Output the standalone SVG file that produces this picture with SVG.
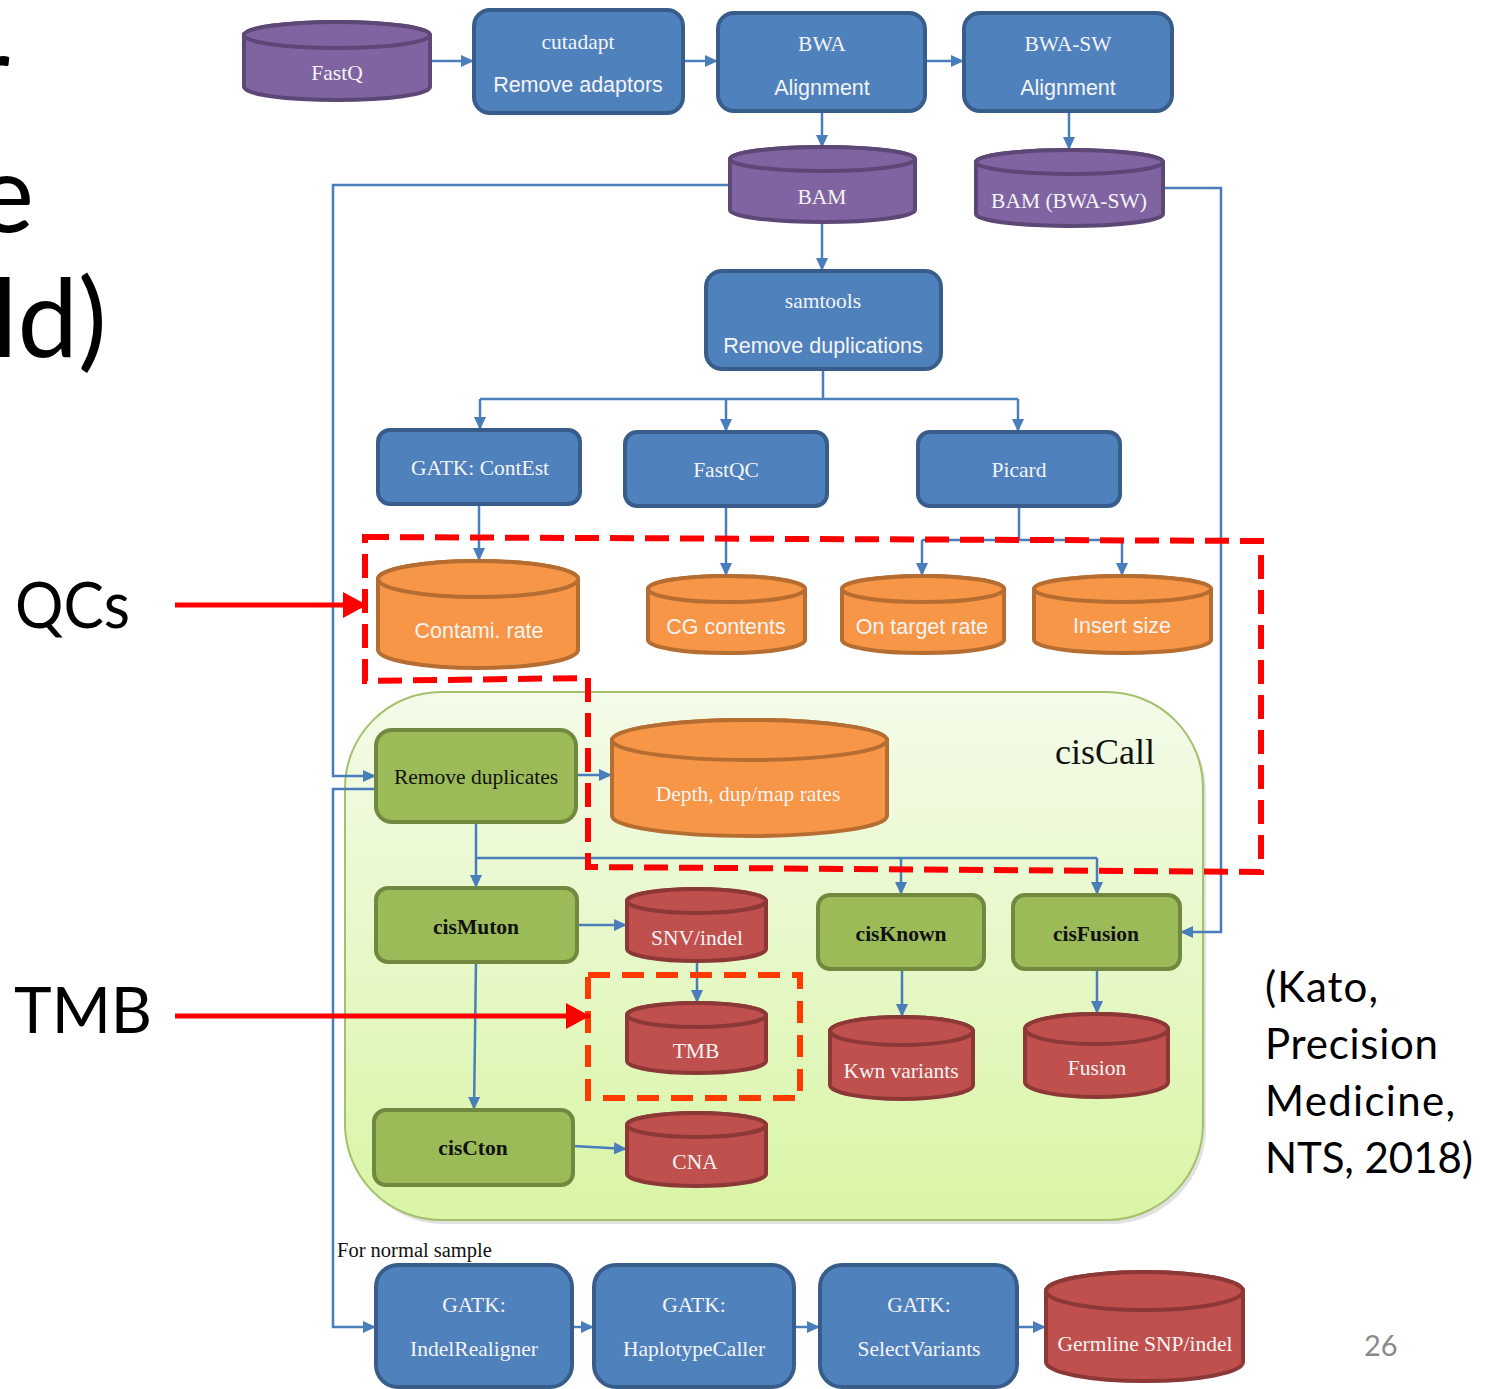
<svg xmlns="http://www.w3.org/2000/svg" width="1492" height="1389" viewBox="0 0 1492 1389">
  <defs>
    <linearGradient id="cisFill" x1="0" y1="0" x2="0" y2="1">
      <stop offset="0" stop-color="#f4fbe9"/>
      <stop offset="1" stop-color="#d9f5a6"/>
    </linearGradient>
    <marker id="arr" markerUnits="userSpaceOnUse" markerWidth="14" markerHeight="14" refX="13" refY="7" orient="auto">
      <path d="M0,1 L13,7 L0,13 Z" fill="#4a7ebb"/>
    </marker>
    <marker id="redArr" markerUnits="userSpaceOnUse" markerWidth="26" markerHeight="28" refX="24" refY="14" orient="auto">
      <path d="M0,1 L24,14 L0,27 Z" fill="#ff0000"/>
    </marker>
  </defs>
  <style>
    .box { fill: #4f81bd; stroke: #385d8a; stroke-width: 4; }
    .gbox { fill: #9bbb59; stroke: #71893f; stroke-width: 4; }
    .cyl-p { fill: #8064a2; stroke: #5c4776; stroke-width: 4; }
    .cyl-o { fill: #f79646; stroke: #b66d31; stroke-width: 4; }
    .cyl-r { fill: #c0504d; stroke: #8c3836; stroke-width: 4; }
    .serif { font-family: "Liberation Serif", "Times New Roman", serif; }
    .sans { font-family: "Liberation Sans", Arial, sans-serif; }
    .slide { font-family: Lato, "Open Sans", sans-serif; fill: #000; }
    .w { fill: #f4f4f4; text-anchor: middle; font-size: 21.5px; }
    .k { fill: #111; text-anchor: middle; font-size: 21.5px; }
    .b { font-weight: bold; }
    .conn path { fill: none; stroke: #4a7ebb; stroke-width: 2.5; }
    .conn .a { marker-end: url(#arr); }
    .qc { fill: none; stroke: #ff0000; stroke-width: 6; stroke-dasharray: 24 11; }
    .tmbbox { fill: none; stroke: #ff3a00; stroke-width: 6; stroke-dasharray: 22 12; }
    .red { stroke: #ff0000; stroke-width: 5; fill: none; marker-end: url(#redArr); }
  </style>

  <rect width="1492" height="1389" fill="#ffffff"/>

  <!-- slide title fragments at the left edge -->
  <text class="slide" x="10" y="112" font-size="108" text-anchor="end">r</text>
  <text class="slide" x="34" y="232" font-size="108" text-anchor="end">e</text>
  <text class="slide" x="-8" y="357" font-size="108">ld)</text>

  <!-- cisCall container -->
  <g id="cisCall">
    <rect x="348" y="696" width="858" height="528" rx="96" fill="#bdbdbd" opacity="0.45"/>
    <rect x="345" y="692" width="858" height="528" rx="96" fill="url(#cisFill)" stroke="#a3c06c" stroke-width="2"/>
    <text class="serif" x="1105" y="764" font-size="36" text-anchor="middle" fill="#111">cisCall</text>
  </g>

  <!-- connectors -->
  <g id="connectors" class="conn">
    <path class="a" d="M430,61 H474"/>
    <path class="a" d="M683,61 H718"/>
    <path class="a" d="M925,61 H964"/>
    <path class="a" d="M822,111 V148"/>
    <path class="a" d="M1069,111 V150"/>
    <path class="a" d="M822,222 V271"/>
    <path class="a" d="M730,185 H333 V776 H376"/>
    <path class="a" d="M1163,188 H1221 V932 H1180"/>
    <path d="M823,369 V399 M480,399 H1018"/>
    <path class="a" d="M480,399 V430"/>
    <path class="a" d="M726,399 V432"/>
    <path class="a" d="M1018,399 V432"/>
    <path class="a" d="M479,504 V561"/>
    <path class="a" d="M726,506 V576"/>
    <path d="M1019,506 V540 M922,540 H1122"/>
    <path class="a" d="M922,540 V576"/>
    <path class="a" d="M1122,540 V576"/>
    <path class="a" d="M576,775 H612"/>
    <path class="a" d="M476,822 V888"/>
    <path d="M476,858 H1097"/>
    <path class="a" d="M901,858 V895"/>
    <path class="a" d="M1097,858 V895"/>
    <path class="a" d="M577,925 H627"/>
    <path class="a" d="M697,961 V1003"/>
    <path class="a" d="M476,962 L474,1110"/>
    <path class="a" d="M573,1146 L627,1149"/>
    <path class="a" d="M902,969 V1017"/>
    <path class="a" d="M1097,969 V1014"/>
    <path class="a" d="M376,789 H333 V1327 H376"/>
    <path class="a" d="M572,1327 H594"/>
    <path class="a" d="M794,1327 H820"/>
    <path class="a" d="M1017,1327 H1046"/>
  </g>

  <!-- top row -->
  <g id="fastq">
    <path class="cyl-p" d="M244,35 V87 A93,13 0 0 0 430,87 V35 A93,13 0 0 0 244,35 Z"/>
    <ellipse class="cyl-p" cx="337" cy="35" rx="93" ry="13"/>
    <text class="serif w" x="337" y="80" font-size="20">FastQ</text>
  </g>
  <g id="cutadapt">
    <rect class="box" x="474" y="10" width="209" height="103" rx="16"/>
    <text class="serif w" x="578" y="49">cutadapt</text>
    <text class="sans w" x="578" y="92" font-size="21">Remove adaptors</text>
  </g>
  <g id="bwa">
    <rect class="box" x="718" y="13" width="207" height="98" rx="16"/>
    <text class="serif w" x="822" y="51">BWA</text>
    <text class="sans w" x="822" y="95">Alignment</text>
  </g>
  <g id="bwasw">
    <rect class="box" x="964" y="13" width="208" height="98" rx="16"/>
    <text class="serif w" x="1068" y="51">BWA-SW</text>
    <text class="sans w" x="1068" y="95">Alignment</text>
  </g>
  <g id="bam">
    <path class="cyl-p" d="M730,159 V210 A92.5,12 0 0 0 915,210 V159 A92.5,12 0 0 0 730,159 Z"/>
    <ellipse class="cyl-p" cx="822.5" cy="159" rx="92.5" ry="12"/>
    <text class="serif w" x="822" y="204" font-size="21">BAM</text>
  </g>
  <g id="bam-bwasw">
    <path class="cyl-p" d="M976,162 V214 A93.5,12 0 0 0 1163,214 V162 A93.5,12 0 0 0 976,162 Z"/>
    <ellipse class="cyl-p" cx="1069.5" cy="162" rx="93.5" ry="12"/>
    <text class="serif w" x="1069" y="208" font-size="20.5">BAM (BWA-SW)</text>
  </g>

  <g id="samtools">
    <rect class="box" x="706" y="271" width="235" height="98" rx="16"/>
    <text class="serif w" x="823" y="308" font-size="20.5">samtools</text>
    <text class="sans w" x="823" y="353">Remove duplications</text>
  </g>

  <!-- QC tools -->
  <g id="contest">
    <rect class="box" x="378" y="430" width="202" height="74" rx="12"/>
    <text class="serif w" x="480" y="475">GATK: ContEst</text>
  </g>
  <g id="fastqc">
    <rect class="box" x="625" y="432" width="202" height="74" rx="12"/>
    <text class="serif w" x="726" y="477">FastQC</text>
  </g>
  <g id="picard">
    <rect class="box" x="918" y="432" width="202" height="74" rx="12"/>
    <text class="serif w" x="1019" y="477">Picard</text>
  </g>

  <!-- QC outputs -->
  <g id="contami">
    <path class="cyl-o" d="M378,579 V650 A100,18 0 0 0 578,650 V579 A100,18 0 0 0 378,579 Z"/>
    <ellipse class="cyl-o" cx="478" cy="579" rx="100" ry="18"/>
    <text class="sans w" x="479" y="638">Contami. rate</text>
  </g>
  <g id="cg">
    <path class="cyl-o" d="M648,589 V640 A78.5,13 0 0 0 805,640 V589 A78.5,13 0 0 0 648,589 Z"/>
    <ellipse class="cyl-o" cx="726.5" cy="589" rx="78.5" ry="13"/>
    <text class="sans w" x="726" y="634">CG contents</text>
  </g>
  <g id="ontarget">
    <path class="cyl-o" d="M842,589 V640 A81,13 0 0 0 1004,640 V589 A81,13 0 0 0 842,589 Z"/>
    <ellipse class="cyl-o" cx="923" cy="589" rx="81" ry="13"/>
    <text class="sans w" x="922" y="634">On target rate</text>
  </g>
  <g id="insert">
    <path class="cyl-o" d="M1034,589 V640 A88.5,13 0 0 0 1211,640 V589 A88.5,13 0 0 0 1034,589 Z"/>
    <ellipse class="cyl-o" cx="1122.5" cy="589" rx="88.5" ry="13"/>
    <text class="sans w" x="1122" y="633" font-size="19.5">Insert size</text>
  </g>

  <!-- cisCall internals -->
  <g id="removedup">
    <rect class="gbox" x="376" y="730" width="200" height="92" rx="16"/>
    <text class="serif k" x="476" y="784">Remove duplicates</text>
  </g>
  <g id="depth">
    <path class="cyl-o" d="M612,740 V816 A137.5,20 0 0 0 887,816 V740 A137.5,20 0 0 0 612,740 Z"/>
    <ellipse class="cyl-o" cx="749.5" cy="740" rx="137.5" ry="20"/>
    <text class="serif w" x="748" y="801" font-size="18.5">Depth, dup/map rates</text>
  </g>
  <g id="cismuton">
    <rect class="gbox" x="376" y="888" width="201" height="74" rx="12"/>
    <text class="serif k b" x="476" y="934">cisMuton</text>
  </g>
  <g id="snv">
    <path class="cyl-r" d="M627,901 V949 A69.5,12 0 0 0 766,949 V901 A69.5,12 0 0 0 627,901 Z"/>
    <ellipse class="cyl-r" cx="696.5" cy="901" rx="69.5" ry="12"/>
    <text class="serif w" x="697" y="945">SNV/indel</text>
  </g>
  <g id="tmb">
    <path class="cyl-r" d="M627,1015 V1061 A69.5,12 0 0 0 766,1061 V1015 A69.5,12 0 0 0 627,1015 Z"/>
    <ellipse class="cyl-r" cx="696.5" cy="1015" rx="69.5" ry="12"/>
    <text class="serif w" x="696" y="1058" font-size="20.5">TMB</text>
  </g>
  <g id="cna">
    <path class="cyl-r" d="M627,1125 V1174 A69.5,12 0 0 0 766,1174 V1125 A69.5,12 0 0 0 627,1125 Z"/>
    <ellipse class="cyl-r" cx="696.5" cy="1125" rx="69.5" ry="12"/>
    <text class="serif w" x="695" y="1169">CNA</text>
  </g>
  <g id="cisctn">
    <rect class="gbox" x="374" y="1110" width="199" height="75" rx="12"/>
    <text class="serif k b" x="473" y="1155">cisCton</text>
  </g>
  <g id="cisknown">
    <rect class="gbox" x="818" y="895" width="166" height="74" rx="12"/>
    <text class="serif k b" x="901" y="941">cisKnown</text>
  </g>
  <g id="cisfusion">
    <rect class="gbox" x="1013" y="895" width="167" height="74" rx="12"/>
    <text class="serif k b" x="1096" y="941">cisFusion</text>
  </g>
  <g id="kwn">
    <path class="cyl-r" d="M830,1031 V1085 A71.5,14 0 0 0 973,1085 V1031 A71.5,14 0 0 0 830,1031 Z"/>
    <ellipse class="cyl-r" cx="901.5" cy="1031" rx="71.5" ry="14"/>
    <text class="serif w" x="901" y="1078">Kwn variants</text>
  </g>
  <g id="fusion">
    <path class="cyl-r" d="M1025,1029 V1082 A71.5,15 0 0 0 1168,1082 V1029 A71.5,15 0 0 0 1025,1029 Z"/>
    <ellipse class="cyl-r" cx="1096.5" cy="1029" rx="71.5" ry="15"/>
    <text class="serif w" x="1097" y="1075">Fusion</text>
  </g>

  <!-- normal-sample branch -->
  <text class="serif" x="337" y="1257" font-size="20.5" fill="#111">For normal sample</text>
  <g id="indelrealigner">
    <rect class="box" x="376" y="1265" width="196" height="122" rx="22"/>
    <text class="serif w" x="474" y="1312">GATK:</text>
    <text class="serif w" x="474" y="1356">IndelRealigner</text>
  </g>
  <g id="haplotypecaller">
    <rect class="box" x="594" y="1265" width="200" height="122" rx="22"/>
    <text class="serif w" x="694" y="1312">GATK:</text>
    <text class="serif w" x="694" y="1356">HaplotypeCaller</text>
  </g>
  <g id="selectvariants">
    <rect class="box" x="820" y="1265" width="197" height="122" rx="22"/>
    <text class="serif w" x="919" y="1312">GATK:</text>
    <text class="serif w" x="919" y="1356">SelectVariants</text>
  </g>
  <g id="germline">
    <path class="cyl-r" d="M1046,1291 V1362 A98.5,19 0 0 0 1243,1362 V1291 A98.5,19 0 0 0 1046,1291 Z"/>
    <ellipse class="cyl-r" cx="1144.5" cy="1291" rx="98.5" ry="19"/>
    <text class="serif w" x="1145" y="1351" font-size="19">Germline SNP/indel</text>
  </g>

  <!-- highlight frames -->
  <path class="qc" d="M365,537 L1261,541 L1261,872 L588,867 L588,678 L365,681 Z"/>
  <rect class="tmbbox" x="588" y="975" width="212" height="123"/>

  <!-- callouts -->
  <text class="slide" x="15" y="628" font-size="64" textLength="115" lengthAdjust="spacingAndGlyphs">QCs</text>
  <path class="red" d="M175,605 H367"/>
  <text class="slide" x="14" y="1033" font-size="64" textLength="138" lengthAdjust="spacingAndGlyphs">TMB</text>
  <path class="red" d="M175,1016 H590"/>

  <text class="slide" font-size="42">
    <tspan x="1265" y="1002" textLength="113">(Kato,</tspan>
    <tspan x="1265" y="1059" textLength="173">Precision</tspan>
    <tspan x="1265" y="1116" textLength="190">Medicine,</tspan>
    <tspan x="1265" y="1173" textLength="208">NTS, 2018)</tspan>
  </text>
  <text class="slide" x="1364" y="1356" font-size="29" style="fill:#8a8a8a">26</text>
</svg>
